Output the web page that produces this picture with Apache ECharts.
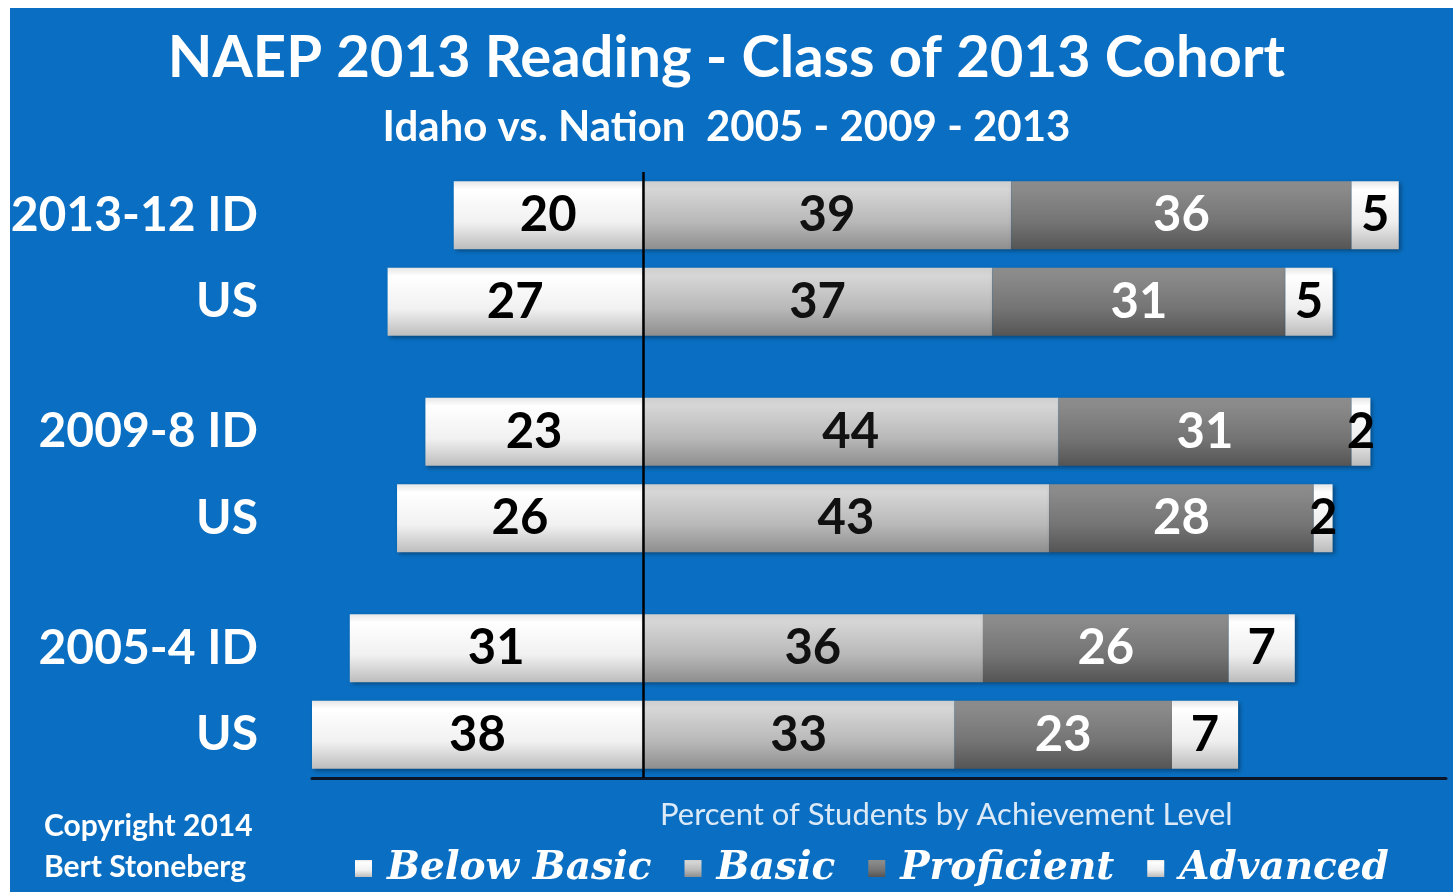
<!DOCTYPE html>
<html>
<head>
<meta charset="utf-8">
<script src="https://cdn.jsdelivr.net/npm/echarts@6/dist/echarts.min.js"></script>
<style>
  html, body { margin: 0; padding: 0; background: #ffffff; }
  #bg { position: absolute; left: 10px; top: 8px; width: 1443px; height: 884px; background: #0a6fc2; }
  #main { position: absolute; left: 0; top: 0; width: 1453px; height: 892px; }
</style>
</head>
<body>
<div id="bg"></div>
<div id="main"></div>
<script>
// row labels and where they sit on the category axis (blank slots make the gaps)
var rowLabels = ['2013-12 ID', 'US', '2009-8 ID', 'US', '2005-4 ID', 'US'];
var rowSlots = [1, 3, 6, 8, 11, 13];
var slotCount = 15;

// percent of students by achievement level
var levels = ['Below Basic', 'Basic', 'Proficient', 'Advanced'];
var belowBasic = [20, 27, 23, 26, 31, 38];
var basic = [39, 37, 44, 43, 36, 33];
var proficient = [36, 31, 31, 28, 26, 23];
var advanced = [5, 5, 2, 2, 7, 7];

// x axis range (below basic is drawn to the left of zero)
var xMin = -35;
var xMax = 85;

function toSlots(values, sign) {
  var out = [];
  for (var i = 0; i < slotCount; i++) out.push('-');
  for (var j = 0; j < values.length; j++) out[rowSlots[j]] = sign * values[j];
  return out;
}

var slotNames = [];
var slotLabel = {};
for (var i = 0; i < slotCount; i++) slotNames.push('s' + i);
for (var k = 0; k < rowSlots.length; k++) slotLabel[rowSlots[k]] = rowLabels[k];

function grad(c0, c1, c2, c3) {
  return new echarts.graphic.LinearGradient(0, 0, 0, 1, [
    { offset: 0, color: c0 },
    { offset: 0.12, color: c1 },
    { offset: 0.6, color: c2 },
    { offset: 1, color: c3 }
  ]);
}

var colors = [
  grad('#e6e6e6', '#ffffff', '#f1f1f1', '#bdbdbd'),
  grad('#cfcfcf', '#d6d6d6', '#b8b8b8', '#8e8e8e'),
  grad('#8c8c8c', '#8a8a8a', '#747474', '#555555'),
  grad('#e6e6e6', '#ffffff', '#eeeeee', '#bbbbbb')
];
var textColors = ['#000000', '#111111', '#ffffff', '#000000'];

var chart = echarts.init(document.getElementById('main'));

function makeSeries(idx, values, sign) {
  var s = {
    name: levels[idx],
    type: 'bar',
    stack: 'total',
    barWidth: 68,
    data: toSlots(values, sign),
    itemStyle: {
      color: colors[idx],
      shadowColor: 'rgba(0,0,0,0.35)',
      shadowBlur: 4,
      shadowOffsetX: 2,
      shadowOffsetY: 2
    },
    label: {
      show: true,
      position: 'inside',
      color: textColors[idx],
      fontFamily: 'Lato',
      fontWeight: 'bold',
      fontSize: 49,
      formatter: function (p) { return Math.abs(p.value); }
    }
  };
  return s;
}

var series = [
  makeSeries(0, belowBasic, -1),
  makeSeries(1, basic, 1),
  makeSeries(2, proficient, 1),
  makeSeries(3, advanced, 1)
];
// zero line
series[0].markLine = {
  silent: true,
  symbol: 'none',
  label: { show: false },
  lineStyle: { color: '#000000', width: 2.5, type: 'solid' },
  data: [{ xAxis: 0 }]
};

var option = {
  backgroundColor: 'transparent',
  animation: false,
  title: [
    {
      text: 'NAEP 2013 Reading - Class of 2013 Cohort',
      left: 'center',
      top: 24,
      textStyle: { color: '#ffffff', fontFamily: 'Lato', fontWeight: 'bold', fontSize: 58 }
    },
    {
      text: 'Idaho vs. Nation  2005 - 2009 - 2013',
      left: 'center',
      top: 101,
      textStyle: { color: '#ffffff', fontFamily: 'Lato', fontWeight: 'bold', fontSize: 42 }
    },
    {
      text: 'Percent of Students by Achievement Level',
      left: 655,
      top: 794,
      textStyle: { color: '#dce9f7', fontFamily: 'Lato', fontWeight: 'normal', fontSize: 31 }
    },
    {
      text: 'Copyright 2014\nBert Stoneberg',
      left: 39,
      top: 801,
      textStyle: { color: '#ffffff', fontFamily: 'Lato', fontWeight: 'bold', fontSize: 30, lineHeight: 41 }
    }
  ],
  legend: {
    data: levels,
    left: 350,
    top: 844,
    icon: 'rect',
    itemWidth: 17,
    itemHeight: 17,
    itemGap: 33,
    textStyle: {
      color: '#ffffff',
      fontFamily: 'DejaVu Serif',
      fontWeight: 'bold',
      fontStyle: 'italic',
      fontSize: 39,
      padding: [0, 0, 0, 10]
    }
  },
  grid: { left: 312, right: 7, top: 172, bottom: 114, containLabel: false },
  xAxis: {
    type: 'value',
    min: xMin,
    max: xMax,
    axisLine: { show: true, onZero: false, lineStyle: { color: '#0a1628', width: 3 } },
    axisTick: { show: false },
    axisLabel: { show: false },
    splitLine: { show: false }
  },
  yAxis: {
    type: 'category',
    inverse: true,
    boundaryGap: false,
    data: slotNames,
    axisLine: { show: false, onZero: false },
    axisTick: { show: false },
    splitLine: { show: false },
    axisLabel: {
      interval: 0,
      margin: 54,
      color: '#ffffff',
      fontFamily: 'Lato',
      fontWeight: 'bold',
      fontSize: 48,
      formatter: function (v, idx) { return slotLabel[idx] || ''; }
    }
  },
  series: series
};

chart.setOption(option);
</script>
</body>
</html>
